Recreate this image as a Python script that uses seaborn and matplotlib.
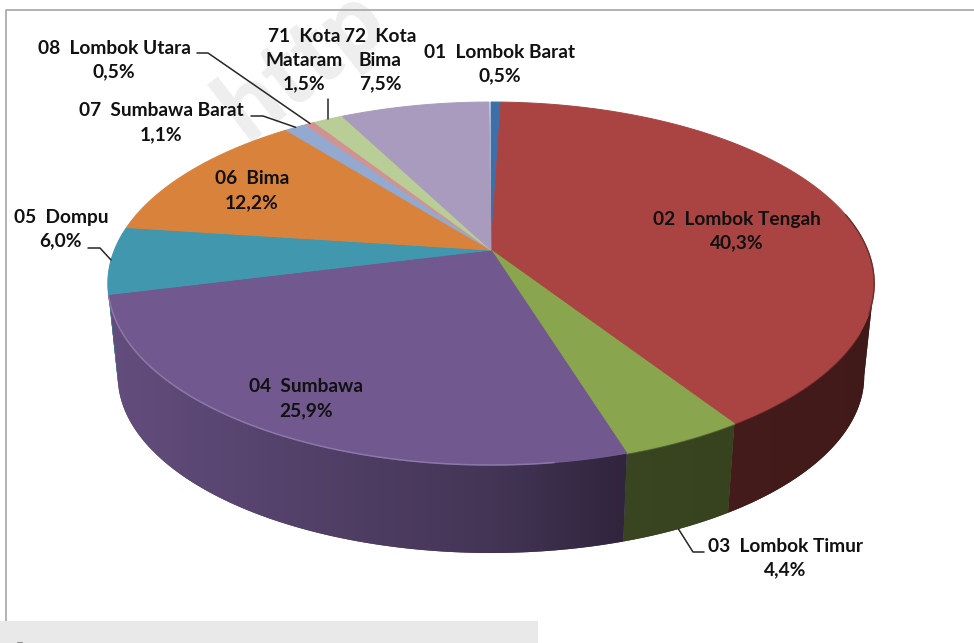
import numpy as np
import matplotlib
matplotlib.use("Agg")
import matplotlib.pyplot as plt
import seaborn as sns

codes = ["01", "02", "03", "04", "05", "06", "07", "08", "71", "72"]
names = ["Lombok Barat", "Lombok Tengah", "Lombok Timur", "Sumbawa", "Dompu",
         "Bima", "Sumbawa Barat", "Lombok Utara", "Kota\nMataram", "Kota\nBima"]
shares = [0.5, 40.3, 4.4, 25.9, 6.0, 12.2, 1.1, 0.5, 1.5, 7.5]
colors = ["#3f6fa8", "#a94442", "#89a54e", "#71588f", "#4097ae",
          "#d9823b", "#93a9cf", "#d19392", "#b9cd96", "#a99bbd"]

sns.set_theme(style="white")
plt.rcParams["font.family"] = ["Lato", "DejaVu Sans"]
palette = sns.color_palette(colors)

# pie geometry, pixels of the 974x643 canvas
cx, cy = 491, 250
a, b, k = 376.6, 175.3, 0.1846
depth_s, bottom_y, top_front = 0.974, 553, 465


def rim(theta):
    # circle seen in perspective, so the centre sits above the middle of the ellipse
    u, v = np.sin(theta), np.cos(theta)
    d = 1 + k * v
    return cx + a * u / d, cy - b * v / d


def lower(x, y):
    return cx + depth_s * (x - cx), bottom_y + depth_s * (y - top_front)


def wall_shade(x):
    return np.interp(x, [116, 491, 625, 875], [0.87, 0.60, 0.42, 0.38])


edges = np.radians(np.concatenate([[0], np.cumsum(shares)]) * 3.6)
mids = (edges[:-1] + edges[1:]) / 2

# the wall only shows between the widest points of the rim
front_from = np.arccos(-k)
front_to = 2 * np.pi - front_from

fig = plt.figure(figsize=(9.74, 6.43), dpi=100)
ax = fig.add_axes([0, 0, 1, 1])

ax.text(302, 63, "http", rotation=38, ha="center", va="center", fontsize=70,
        fontweight="black", color="#eeeeee", zorder=1, clip_on=True)

# frame and the grey band under it
ax.plot([5.5, 5.5, 974], [621, 10, 10], color="#a6a6a6", lw=1.2, zorder=2)
ax.fill_between([0, 538], 621, 643, color="#e9e9e9", lw=0, zorder=2)
ax.plot([18, 22], [642.5, 642.5], color="#8c8c8c", lw=1.5, zorder=3)

# side walls: a flat base for each slice with a gradient clipped to it
for i, col in enumerate(palette):
    t0, t1 = max(edges[i], front_from), min(edges[i + 1], front_to)
    if t1 <= t0:
        continue
    x, y = rim(np.linspace(t0, t1, 150))
    bx, by = lower(x, y)
    wx, wy = np.r_[x, bx[::-1]], np.r_[y, by[::-1]]
    col = np.array(col)
    poly = ax.fill(wx, wy, color=tuple(col * wall_shade(wx.mean())), lw=0, zorder=3)[0]
    gx = np.linspace(wx.min(), wx.max(), 200)
    grad = np.outer(wall_shade(gx), col)[np.newaxis, :, :]
    img = ax.imshow(grad, extent=(wx.min(), wx.max(), wy.max(), wy.min()), aspect="auto",
                    interpolation="bilinear", zorder=3.1)
    img.set_clip_path(poly)

# soft line where the wall meets the top face
for i in [1, 2]:
    x, y = rim(np.linspace(edges[i], edges[i + 1], 80))
    keep = y > 330
    ax.plot(x[keep], y[keep], color=tuple(np.array(palette[i]) * 0.7), lw=2.0, alpha=0.7, zorder=3.5)

# top face
for i, col in enumerate(palette):
    th = np.linspace(edges[i], edges[i + 1], max(4, int(shares[i] * 8)))
    x, y = rim(th)
    ax.fill(np.r_[cx, x], np.r_[cy, y], color=col, lw=0.7, zorder=4)

# light rim on the purple front edge, dark rim on the far right
x, y = rim(np.linspace(edges[3], edges[4], 120))
keep = x < 560
ax.plot(x[keep], y[keep], color="#8b78a8", lw=1.1, zorder=5)
x, y = rim(np.linspace(np.radians(78), np.radians(110), 60))
ax.plot(x, y, color="#6a2f2d", lw=1.0, zorder=5)

# labels: centre x, y of the first line
label_pos = [(500, 51), (737, 218), (785, 545), (306, 386), (61, 216),
             (252, 178), (161, 110), (114, 47), (304, 34), (380, 34)]
for code, name, share, (lx, ly) in zip(codes, names, shares, label_pos):
    txt = f"{code}  {name}\n{share:.1f}%".replace(".", ",")
    ax.text(lx, ly + 13 * txt.count("\n"), txt, ha="center", va="center", fontsize=13.8,
            fontweight="bold", color="#111111", linespacing=1.5, zorder=6)

# leader lines: text end, elbow, then the slice rim
line_kw = dict(color="#262626", lw=1.1, zorder=5.5)
for i, start in [(7, [(197, 53), (208, 53)]), (6, [(251, 116), (263, 116)]),
                 (4, [(88, 248), (100, 248)])]:
    ex, ey = rim(mids[i])
    pts = start + [(ex, ey)]
    ax.plot([p[0] for p in pts], [p[1] for p in pts], **line_kw)
ex, ey = rim(mids[8])
ax.plot([ex, ex], [99, ey], **line_kw)
ex, ey = lower(*rim(mids[2]))
ax.plot([704, 693, ex], [552, 552, ey], **line_kw)

ax.set_xlim(0, 974)
ax.set_ylim(643, 0)
ax.axis("off")

fig.savefig("out.png", dpi=100)
